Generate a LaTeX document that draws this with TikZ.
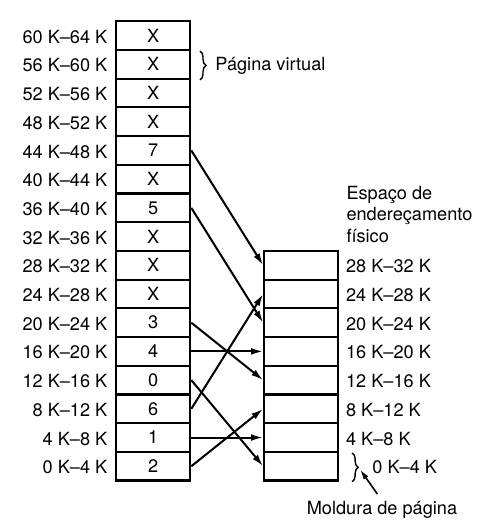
\documentclass[tikz,border=0pt]{standalone}
\usepackage{fontspec}
\setmainfont{TeX Gyre Heros}
\usetikzlibrary{arrows.meta,decorations.pathreplacing}

\begin{document}
\begin{tikzpicture}[x=0.5cm, y=0.5cm,
    font=\fontsize{9}{10.5}\selectfont,
    cell/.style={draw, line width=1.1pt, minimum width=1.29cm, minimum height=0.5cm,
        inner sep=0pt, anchor=south west},
    map/.style={-{Latex[length=6pt,width=3.4pt]}, line width=1pt},
    curly/.style={decorate, decoration={brace, amplitude=3pt}, line width=0.7pt}]
    \useasboundingbox (-4.007,-1.648) rectangle (12.82,16.78);

    % Virtual pages
    \foreach \i/\v in {0/2,1/1,2/6,3/0,4/4,5/3,6/X,7/X,8/X,9/5,10/X,11/7,12/X,13/X,14/X,15/X} {
        \pgfmathtruncatemacro\lo{4*\i}
        \pgfmathtruncatemacro\hi{4*\i+4}
        \node[cell] (p\i) at (0,\i) {\v};
        \node[anchor=east] (lp\i) at (-0.02,\i+0.5) {\lo{} K--\hi{} K};
    }
    \draw[curly] (2.96,15) -- (2.96,14);
    \node[anchor=west] (pv) at (3.25,14.5) {Página virtual};

    % Page frames
    \foreach \i in {0,...,7} {
        \node[cell] (f\i) at (5.16,\i) {};
    }
    \foreach \i in {1,...,7} {
        \pgfmathtruncatemacro\lo{4*\i}
        \pgfmathtruncatemacro\hi{4*\i+4}
        \node[anchor=west] (lf\i) at (7.8,\i+0.5) {\lo{} K--\hi{} K};
    }
    \node[anchor=north west, align=left, inner sep=0pt] (fis) at (8.05,10.3)
        {Espaço de\\endereçamento\\físico};

    % Frame 0
    \draw[curly] (8.26,1) -- (8.26,0);
    \coordinate (tip) at (8.54,0.42);
    \node[anchor=west] (lf0) at (8.72,0.5) {0 K--4 K};
    \node (mold) at (9.3,-0.98) {Moldura de página};
    \draw[-{Latex[length=5pt,width=2.8pt]}, line width=0.8pt] ([xshift=-0.08cm]mold.north) -- (tip);

    % Mapping
    \foreach \p/\f in {11/7,9/5,5/3,4/4,3/0,2/6,1/1,0/2}
        \draw[map] (p\p.east) -- (f\f.west);
\end{tikzpicture}
\end{document}
